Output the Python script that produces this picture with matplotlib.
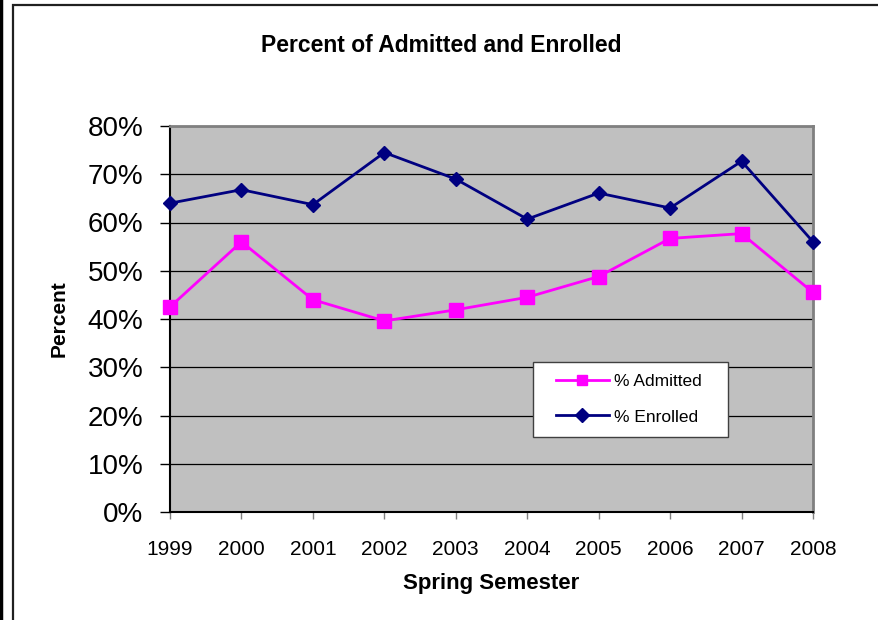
import matplotlib.pyplot as plt
from matplotlib.patches import Rectangle
from matplotlib.lines import Line2D
from matplotlib.ticker import FuncFormatter

plt.rcParams['font.family'] = ['Liberation Sans', 'DejaVu Sans']

# datos
years = ['1999', '2000', '2001', '2002', '2003', '2004', '2005', '2006', '2007', '2008']
admitted = [42.5, 56.0, 44.0, 39.6, 41.9, 44.5, 48.8, 56.7, 57.7, 45.5]
enrolled = [64.0, 66.8, 63.7, 74.5, 69.0, 60.7, 66.1, 63.0, 72.7, 56.0]

W, H = 879, 620
fig = plt.figure(figsize=(W / 100, H / 100), dpi=100)
ax = fig.add_axes([170 / W, 1 - 512 / H, (813 - 170) / W, (512 - 126) / H])

# marco del grafico
fig.patches.append(Rectangle((13 / W, -0.05), 1.0, 1 - 5 / H + 0.05, transform=fig.transFigure,
                             fill=False, edgecolor='#202020', linewidth=1.6))
fig.lines.append(Line2D([1.5 / W, 1.5 / W], [0, 1], transform=fig.transFigure,
                        color='black', linewidth=2.5))

ax.set_facecolor('#C0C0C0')
x = list(range(len(years)))
ax.plot(x, admitted, color='#FF00FF', linewidth=2.0, marker='s', markersize=10,
        markeredgecolor='#FF00FF', label='% Admitted', zorder=3, clip_on=False)
ax.plot(x, enrolled, color='#000080', linewidth=2.0, marker='D', markersize=7,
        markeredgecolor='#000080', label='% Enrolled', zorder=3, clip_on=False)

ax.set_xlim(0, len(years) - 1)
ax.set_ylim(0, 80)
ax.set_yticks(range(0, 81, 10))
ax.yaxis.set_major_formatter(FuncFormatter(lambda v, p: f'{v:.0f}%'))
ax.set_xticks(x)
ax.set_xticklabels(years)
ax.grid(axis='y', color='#000000', linewidth=0.9)
ax.set_axisbelow(True)

ax.tick_params(axis='y', labelsize=20, length=7, width=1, color='#000000', pad=12)
ax.tick_params(axis='x', labelsize=15, length=5, width=1, color='#808080', pad=15)
for s in ['top', 'right']:
    ax.spines[s].set_color('#808080')
    ax.spines[s].set_linewidth(2)
for s in ['left', 'bottom']:
    ax.spines[s].set_color('#000000')
    ax.spines[s].set_linewidth(1.5)

ax.set_ylabel('Percent', fontsize=15, fontweight='bold', labelpad=14)
ax.set_xlabel('Spring Semester', fontsize=16, fontweight='bold', labelpad=10)
fig.text(441 / W, 1 - 45 / H, 'Percent of Admitted and Enrolled', ha='center', va='center',
         fontsize=16.5, fontweight='bold')

# caja de la leyenda
aw, ah = 813 - 170, 512 - 126
box = Rectangle(((533 - 170) / aw, (512 - 437) / ah), (728 - 533) / aw, (437 - 362) / ah,
                transform=ax.transAxes, facecolor='white', edgecolor='#404040',
                linewidth=1, zorder=4)
ax.add_patch(box)
leg = ax.legend(loc='center left', bbox_to_anchor=((556 - 170) / aw, (512 - 399) / ah),
                fontsize=12.5, frameon=False, handlelength=3.05,
                borderpad=0, labelspacing=1.2, handletextpad=0.3, borderaxespad=0)
leg.set_zorder(5)
for h in leg.legend_handles:
    h.set_markersize(7)

fig.savefig('out.png', dpi=100)
